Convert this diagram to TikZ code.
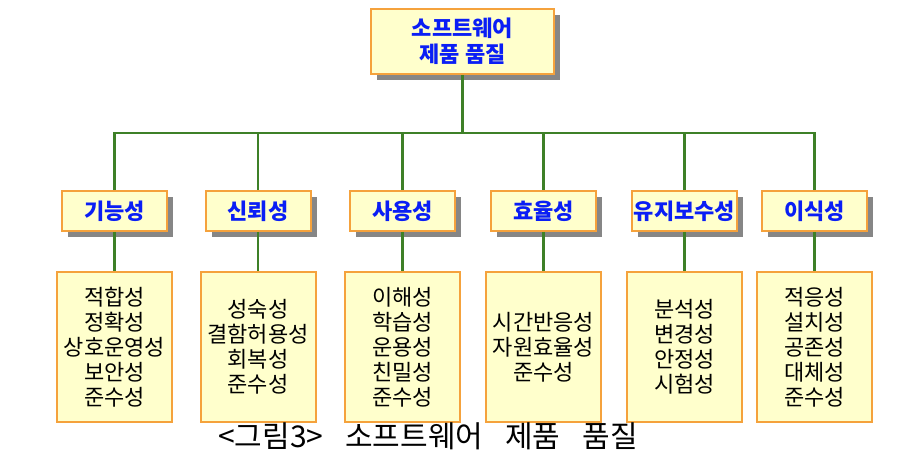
\documentclass[tikz,border=0pt]{standalone}
\usepackage{fontspec}
\setmainfont{Noto Sans CJK KR}
\usepackage{tikz}
\usetikzlibrary{positioning,shadows}
\usepackage{xcolor}
\definecolor{boxfill}{RGB}{255,255,204}
\definecolor{boxline}{RGB}{245,162,60}
\definecolor{linkgreen}{RGB}{62,128,40}
\definecolor{titleblue}{RGB}{10,30,245}

\begin{document}
\begin{tikzpicture}[
    x=1pt, y=1pt,
    box/.style={rectangle, draw=boxline, line width=2pt, fill=boxfill,
                align=center, inner sep=0pt},
    shadowbox/.style={box, drop shadow={shadow xshift=6pt, shadow yshift=-6pt,
                fill=gray!95, opacity=1}},
    topbox/.style={shadowbox, minimum width=183pt, minimum height=65pt,
                font=\fontsize{22}{26}\selectfont\bfseries, text=titleblue},
    catbox/.style={shadowbox, minimum width=105pt, minimum height=40pt,
                font=\fontsize{22}{24}\selectfont\bfseries, text=titleblue},
    subbox/.style={box, minimum width=115pt, minimum height=150pt,
                font=\fontsize{22}{25}\selectfont, text=black},
    link/.style={draw=linkgreen, line width=2.5pt},
    node distance=39pt
  ]
  \useasboundingbox (0,0) rectangle (908,-470);

  %% Top node
  \node[topbox] (quality) at (462.5,-41.5) {소프트웨어\\제품 품질};
  \coordinate (bus) at (462.5,-133);

  %% Quality characteristics (second row)
  \node[catbox] (func)  at (114.5,-211) {기능성};
  \node[catbox] (reli)  at (258,-211)   {신뢰성};
  \node[catbox] (usab)  at (402.5,-211) {사용성};
  \node[catbox] (effi)  at (543.5,-211) {효율성};
  \node[catbox] (main)  at (684.5,-211) {유지보수성};
  \node[catbox] (port)  at (814.5,-211) {이식성};

  %% Sub-characteristics (bottom row)
  \node[subbox, below=of func] (funcsub) {적합성\\정확성\\상호운영성\\보안성\\준수성};
  \node[subbox, below=of reli] (relisub) {성숙성\\결함허용성\\회복성\\준수성};
  \node[subbox, below=of usab] (usabsub) {이해성\\학습성\\운용성\\친밀성\\준수성};
  \node[subbox, below=of effi] (effisub) {시간반응성\\자원효율성\\준수성};
  \node[subbox, below=of main] (mainsub) {분석성\\변경성\\안정성\\시험성};
  \node[subbox, below=of port] (portsub) {적응성\\설치성\\공존성\\대체성\\준수성};

  %% Tree connectors
  \draw[link] (quality) -- (bus);
  \draw[link] (func) |- (bus);
  \draw[link] (reli) |- (bus);
  \draw[link] (usab) |- (bus);
  \draw[link] (effi) |- (bus);
  \draw[link] (main) |- (bus);
  \draw[link] (port) |- (bus);

  \draw[link] (func) -- (funcsub);
  \draw[link] (reli) -- (relisub);
  \draw[link] (usab) -- (usabsub);
  \draw[link] (effi) -- (effisub);
  \draw[link] (main) -- (mainsub);
  \draw[link] (port) -- (portsub);

  %% Caption
  \node[font=\fontsize{30}{32}\selectfont] (caption) at (428,-436)
        {<그림3>\hspace{22pt}소프트웨어\hspace{22pt}제품\hspace{22pt}품질};

\end{tikzpicture}
\end{document}
